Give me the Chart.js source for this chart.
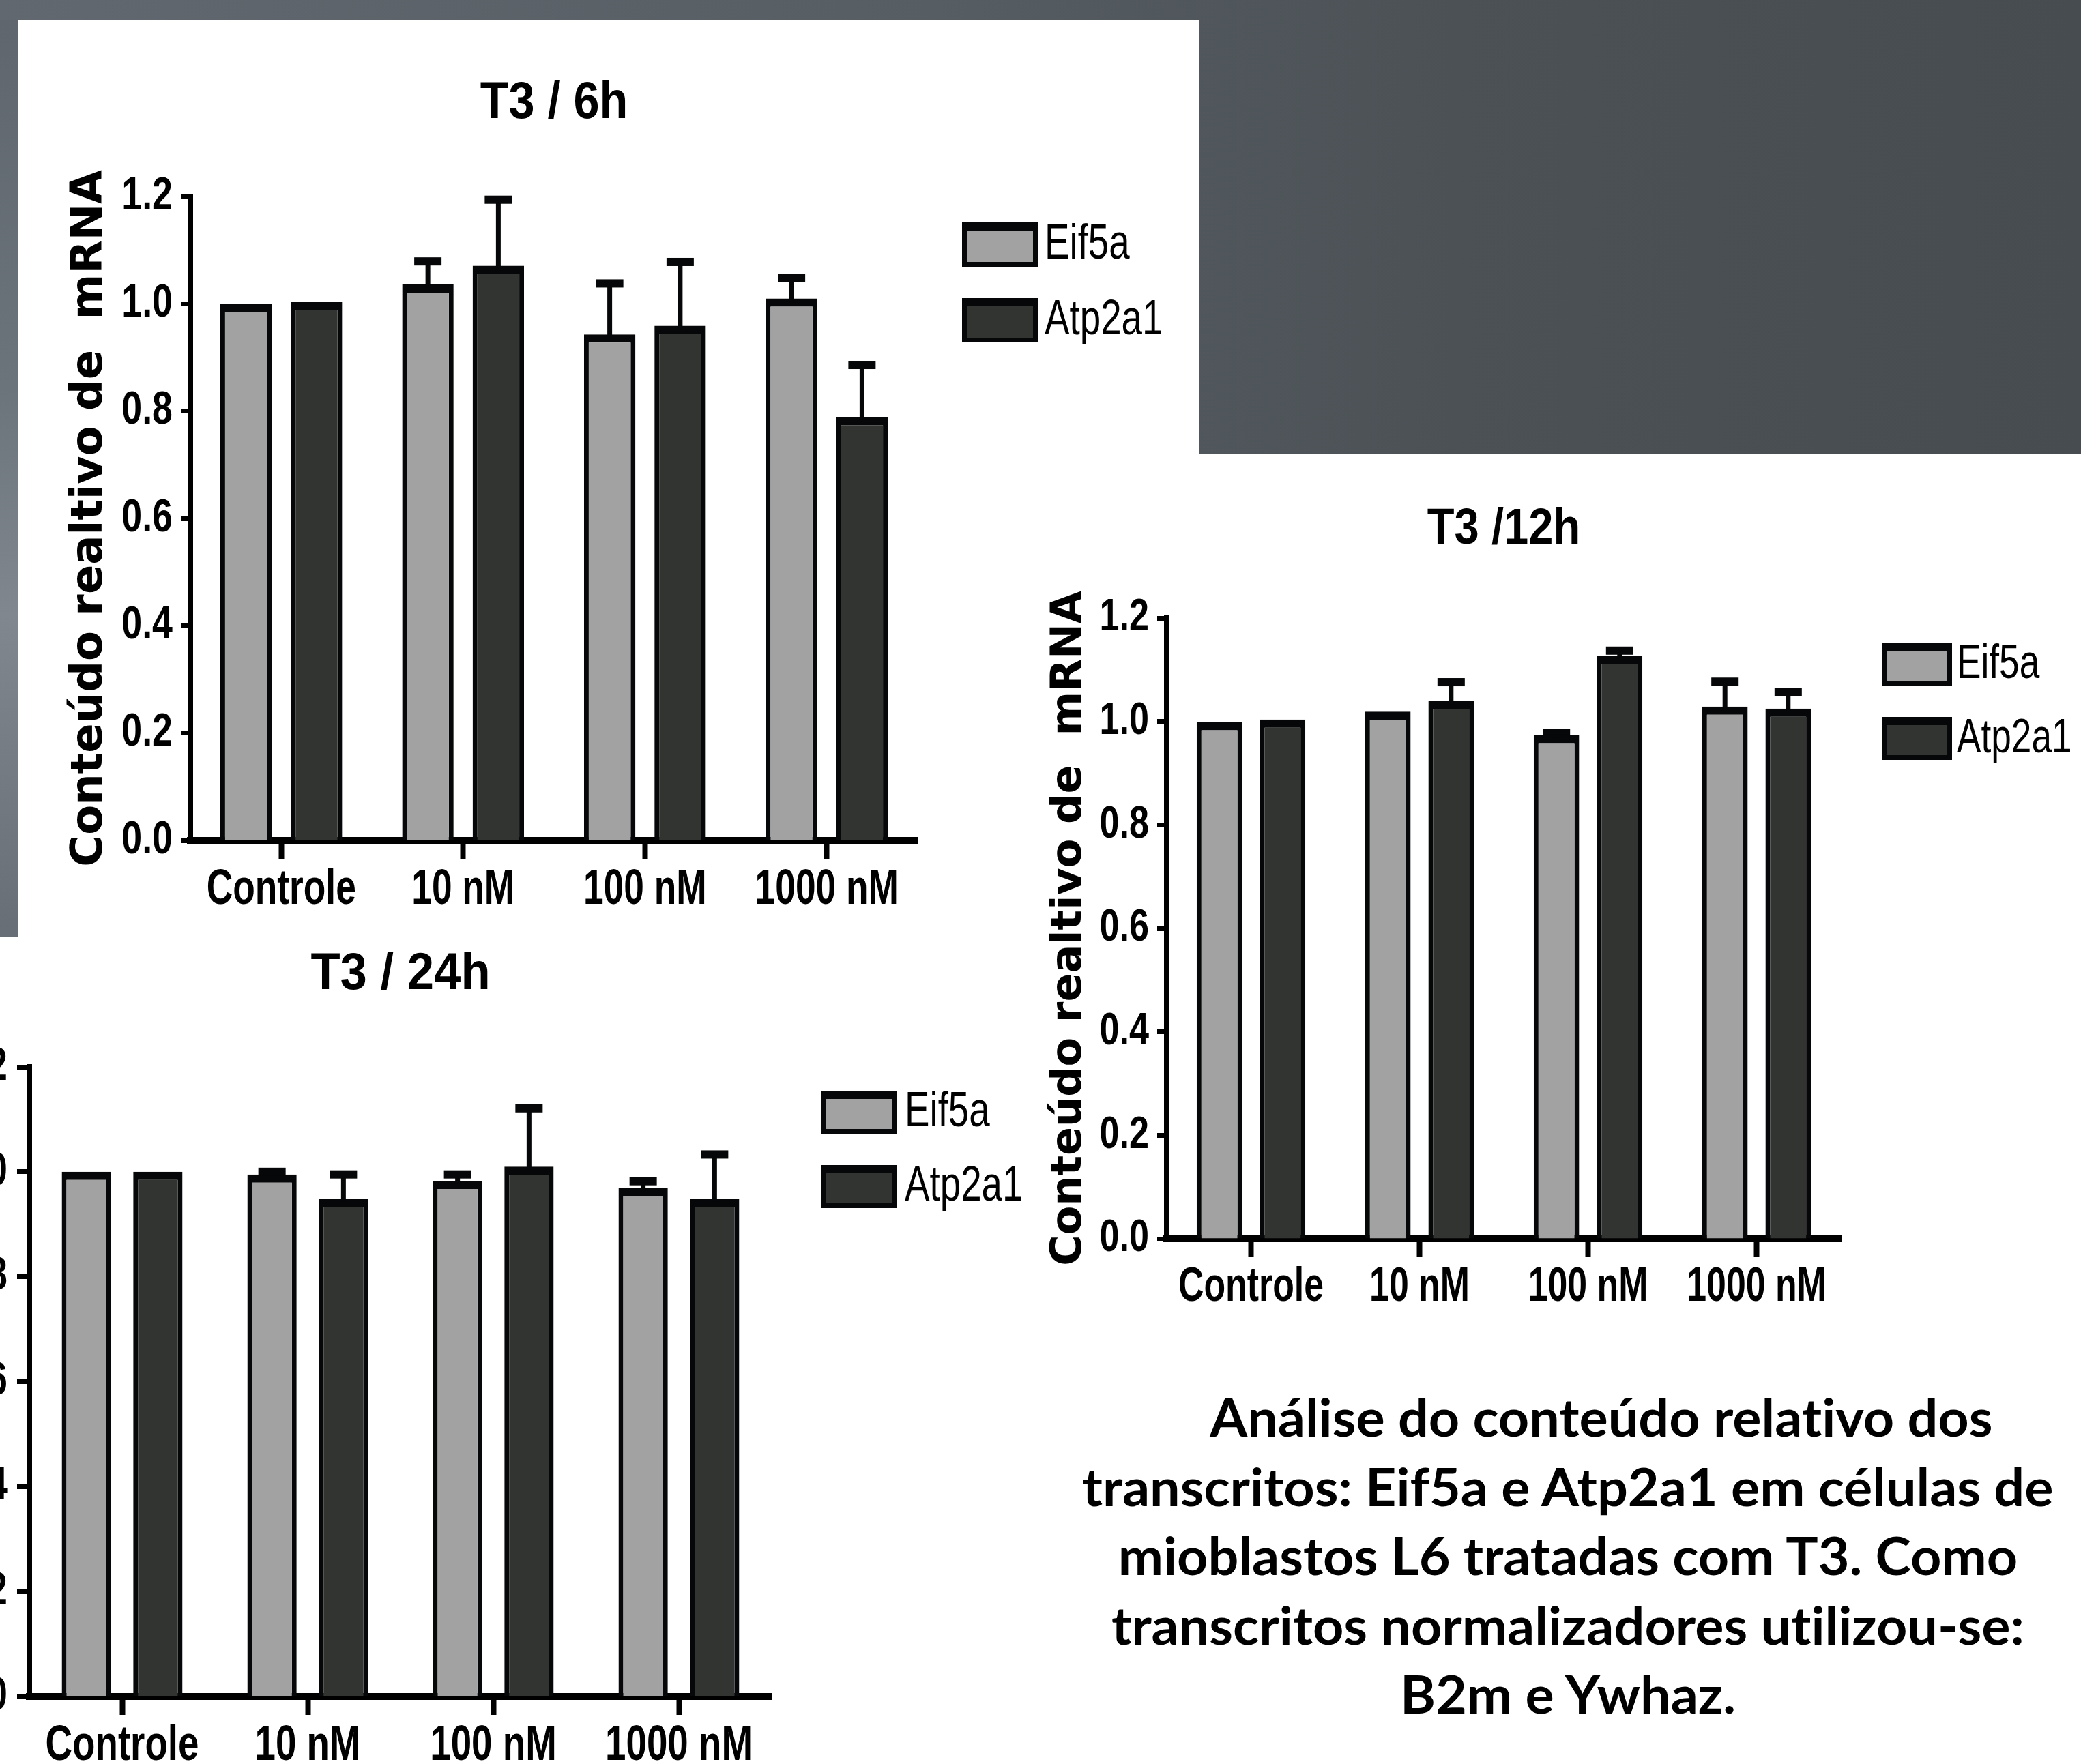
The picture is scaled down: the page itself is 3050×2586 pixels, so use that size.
<!DOCTYPE html>
<html>
<head>
<meta charset="utf-8">
<script src="https://cdn.jsdelivr.net/npm/chart.js@4.4.0/dist/chart.umd.min.js"></script>
<style>
  html, body { margin: 0; padding: 0; }
  body {
    width: 3050px; height: 2586px; overflow: hidden; position: relative;
    background: linear-gradient(90deg, #61686f 0%, #565d63 45%, #4b5155 70%, #464c50 100%);
  }
  .panel { position: absolute; background: #fff; }
  #strip {
    position: absolute; left: 0; top: 29px; width: 27px; height: 1344px;
    background: linear-gradient(180deg, #5f666e 0%, #6c747b 40%, #80878e 65%, #676e75 100%);
  }
  canvas { position: absolute; }
  #caption {
    position: absolute; left: 1498px; width: 1600px; top: 2026px;
    text-align: center; font-family: Lato, "Open Sans", sans-serif; font-weight: 700;
    font-size: 76px; line-height: 101.5px; color: #000; transform-origin: 800px 0;
    font-variant-ligatures: none;
  }
  #caption span { white-space: pre; }
</style>
</head>
<body>
<div class="panel" style="left:27px;top:29px;width:1731px;height:1344px"></div>
<div class="panel" style="left:1758px;top:665px;width:1292px;height:1921px"></div>
<div class="panel" style="left:0;top:1372px;width:1758px;height:1214px"></div>
<div id="strip"></div>

<canvas id="chart6h" width="1760" height="1380" style="left:0;top:0"></canvas>
<canvas id="chart12h" width="1610" height="1260" style="left:1440px;top:680px"></canvas>
<canvas id="chart24h" width="1860" height="1290" style="left:-300px;top:1330px"></canvas>

<div id="caption">
  <div><span style="padding-left:94px">Análise do conteúdo relativo dos</span></div>
  <div><span id="refLine">transcritos: Eif5a e Atp2a1 em células de</span></div>
  <div><span>mioblastos L6 tratadas com T3. Como</span></div>
  <div><span>transcritos normalizadores utilizou-se:</span></div>
  <div><span>B2m e Ywhaz.</span></div>
</div>

<script>
// ---- data ----
const categories = ["Controle", "10 nM", "100 nM", "1000 nM"];
const seriesNames = ["Eif5a", "Atp2a1"];
const yTickLabels = ["0.0", "0.2", "0.4", "0.6", "0.8", "1.0", "1.2"];

// T3 / 6h  (mean, top of error bar)
const eif5a6h = [1.000, 1.036, 0.943, 1.010];
const eif5a6hErr = [null, 1.079, 1.038, 1.048];
const atp2a16h = [1.003, 1.071, 0.959, 0.789];
const atp2a16hErr = [null, 1.194, 1.078, 0.886];

// T3 / 12h
const eif5a12h = [0.999, 1.019, 0.974, 1.029];
const eif5a12hErr = [null, null, 0.978, 1.077];
const atp2a112h = [1.004, 1.039, 1.127, 1.025];
const atp2a112hErr = [null, 1.076, 1.137, 1.057];

// T3 / 24h
const eif5a24h = [1.000, 0.995, 0.983, 0.969];
const eif5a24hErr = [null, 1.000, 0.995, 0.982];
const atp2a124h = [1.000, 0.949, 1.010, 0.949];
const atp2a124hErr = [null, 0.995, 1.121, 1.033];

const fillColors = ["#a2a2a3", "#323432"];
const inkColor = "#060708";
const sans = "'Liberation Sans', Arial, sans-serif";

// the original uses a narrow Helvetica; squeeze bold Liberation text horizontally
function squeezeText(ctx, table) {
  const fill = CanvasRenderingContext2D.prototype.fillText;
  ctx.fillText = function (text, x, y, maxWidth) {
    const m = /(\d+(?:\.\d+)?)px/.exec(ctx.font);
    const isNarrow = ctx.font.indexOf("Liberation") >= 0 && ctx.font.indexOf("bold") >= 0;
    const k = m && isNarrow ? (table[Math.round(+m[1])] || 1) : 1;
    if (k === 1) return fill.call(ctx, text, x, y);
    ctx.save();
    ctx.translate(x, y);
    ctx.scale(k, 1);
    fill.call(ctx, text, 0, 0);
    ctx.restore();
  };
}

// error bars, drawn from each bar's pixel position and the y scale
const errorBars = {
  id: "errorBars",
  afterDatasetsDraw(chart, args, opts) {
    const ctx = chart.ctx;
    const y = chart.scales.y;
    chart.data.datasets.forEach((ds, i) => {
      const meta = chart.getDatasetMeta(i);
      meta.data.forEach((bar, j) => {
        const hi = ds.errTop[j];
        if (hi == null) return;
        const yHi = y.getPixelForValue(hi);
        ctx.save();
        ctx.fillStyle = inkColor;
        ctx.fillRect(bar.x - opts.stem / 2, yHi, opts.stem, bar.y - yHi + 4);
        ctx.fillRect(bar.x - opts.cap / 2, yHi - opts.capH / 2, opts.cap, opts.capH);
        ctx.restore();
      });
    });
  }
};

// legend to the right of the plot
const sideLegend = {
  id: "sideLegend",
  afterDraw(chart, args, o) {
    const ctx = chart.ctx;
    const area = chart.chartArea;
    chart.data.datasets.forEach((ds, i) => {
      const x = area.right + o.dx;
      const y = area.top + o.dy[i];
      ctx.save();
      ctx.fillStyle = inkColor;
      ctx.fillRect(x, y, o.w, o.h);
      ctx.fillStyle = ds.backgroundColor;
      ctx.fillRect(x + 7, y + 12, o.w - 14, o.h - 19);
      ctx.fillStyle = "#000";
      ctx.font = o.size + "px " + sans;
      ctx.textBaseline = "alphabetic";
      ctx.textAlign = "left";
      ctx.translate(x + o.w + o.gap, y + o.h / 2 + o.size * 0.36 - 5);
      ctx.scale(o.squeeze, 1);
      ctx.fillText(ds.label, 0, 0);
      ctx.restore();
    });
  }
};

function makeChart(id, title, eif, eifErr, atp, atpErr, L) {
  const ctx = document.getElementById(id).getContext("2d");
  const canvas = ctx.canvas;
  squeezeText(ctx, L.squeeze);
  const barStyle = {
    borderColor: inkColor,
    borderWidth: { top: 12, left: 7, right: 7, bottom: 0 },
    borderSkipped: false,
    categoryPercentage: L.catPct,
    barPercentage: L.barPct
  };
  const titleLH = L.titleSize * 1.2;
  return new Chart(ctx, {
    type: "bar",
    data: {
      labels: categories,
      datasets: [
        Object.assign({ label: seriesNames[0], data: eif, errTop: eifErr, backgroundColor: fillColors[0] }, barStyle),
        Object.assign({ label: seriesNames[1], data: atp, errTop: atpErr, backgroundColor: fillColors[1] }, barStyle)
      ]
    },
    plugins: [errorBars, sideLegend],
    options: {
      responsive: false,
      animation: false,
      devicePixelRatio: 1,
      layout: { padding: { left: 0, top: 0, bottom: 0, right: canvas.width - L.right } },
      plugins: {
        legend: { display: false },
        tooltip: { enabled: false },
        title: {
          display: true, text: title, color: "#000", fullSize: false,
          font: { family: sans, size: L.titleSize, weight: "bold", lineHeight: 1.2 },
          padding: { top: L.titleY - titleLH / 2, bottom: L.top - L.titleY - titleLH / 2 }
        },
        errorBars: { stem: 7, cap: 40, capH: 12 },
        sideLegend: L.legend
      },
      scales: {
        x: {
          afterFit: s => { s.height = canvas.height - L.bottom; },
          grid: { offset: false, drawOnChartArea: false, tickLength: 27, tickWidth: 8, tickColor: "#000" },
          border: { display: true, color: "#000", width: 10 },
          ticks: {
            color: "#000", padding: 10, autoSkip: false, maxRotation: 0, minRotation: 0,
            font: { family: sans, size: L.xTickSize, weight: "bold", lineHeight: 1 }
          }
        },
        y: {
          min: 0, max: 1.2,
          afterFit: s => { s.width = L.left; },
          grid: { drawOnChartArea: false, tickLength: L.yTick, tickWidth: 7, tickColor: "#000" },
          border: { display: true, color: "#000", width: 8 },
          ticks: {
            stepSize: 0.2, color: "#000", padding: L.yPad,
            font: { family: sans, size: L.yTickSize, weight: "bold" },
            callback: (v, i) => yTickLabels[i]
          },
          title: {
            display: true, text: "Conteúdo realtivo de  mRNA", color: "#000",
            font: { family: "'DejaVu Sans', sans-serif", size: L.yTitleSize, weight: "bold", lineHeight: 1.2 },
            padding: { top: L.yTitleX - L.yTitleSize * 0.6, bottom: 0 }
          }
        }
      }
    }
  });
}

makeChart("chart6h", "T3 / 6h", eif5a6h, eif5a6hErr, atp2a16h, atp2a16hErr, {
  left: 279, right: 1345, top: 288, bottom: 1232,
  titleSize: 76, titleY: 152, xTickSize: 72, yTickSize: 68, yTick: 14, yPad: 12,
  yTitleSize: 64, yTitleX: 132, catPct: 0.775, barPct: 0.73,
  squeeze: { 72: 0.74, 68: 0.79, 76: 0.9 },
  legend: { dx: 65, dy: [38, 149], w: 111, h: 65, gap: 10, size: 72, squeeze: 0.76 }
});

makeChart("chart12h", "T3 /12h", eif5a12h, eif5a12hErr, atp2a112h, atp2a112hErr, {
  left: 270, right: 1258, top: 226, bottom: 1136,
  titleSize: 74, titleY: 97, xTickSize: 70, yTickSize: 66, yTick: 14, yPad: 12,
  yTitleSize: 62, yTitleX: 128, catPct: 0.75, barPct: 0.72,
  squeeze: { 70: 0.74, 66: 0.79, 74: 0.88 },
  legend: { dx: 60, dy: [36, 145], w: 103, h: 63, gap: 7, size: 70, squeeze: 0.76 }
});

makeChart("chart24h", "T3 / 24h", eif5a24h, eif5a24hErr, atp2a124h, atp2a124hErr, {
  left: 343, right: 1431, top: 234, bottom: 1157,
  titleSize: 76, titleY: 99, xTickSize: 72, yTickSize: 68, yTick: 18, yPad: 14,
  yTitleSize: 64, yTitleX: 150, catPct: 0.77, barPct: 0.69,
  squeeze: { 72: 0.76, 68: 0.79, 76: 0.93 },
  legend: { dx: 73, dy: [35, 144], w: 110, h: 63, gap: 12, size: 72, squeeze: 0.76 }
});

// squeeze caption to the reference line width
const ref = document.getElementById("refLine");
const k = 1423 / ref.getBoundingClientRect().width;
document.getElementById("caption").style.transform = "scaleX(" + k + ")";
</script>
</body>
</html>
